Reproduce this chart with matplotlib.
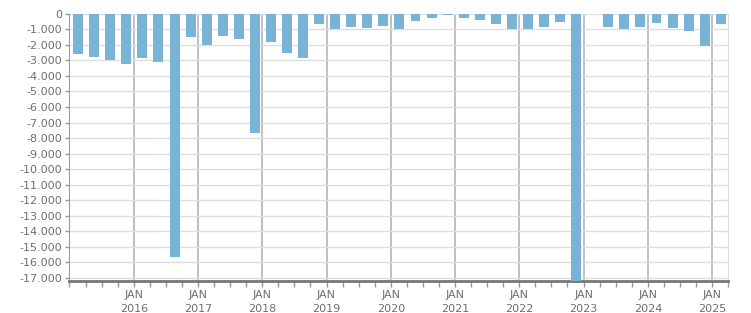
import numpy as np
import matplotlib.pyplot as plt
from matplotlib.ticker import FuncFormatter, MultipleLocator

# quarterly values, 2015 Q1 .. 2025 Q1 (nan = no data)
years = [2015] * 4 + [2016] * 4 + [2017] * 4 + [2018] * 4 + [2019] * 4 + \
        [2020] * 4 + [2021] * 4 + [2022] * 4 + [2023] * 4 + [2024] * 4 + [2025]
quarters = [1, 2, 3, 4] * 10 + [1]
values = [
    -2580, -2770, -2970, -3230,
    -2840, -3120, -15650, -1480,
    -2000, -1420, -1610, -7680,
    -1830, -2520, -2840, -650,
    -970, -840, -900, -770,
    -970, -450, -260, -90,
    -260, -390, -650, -970,
    -970, -840, -520, -19000,
    np.nan, -840, -970, -840,
    -580, -900, -1100, -2060,
    -650,
]
label_years = list(range(2016, 2026))

BAR_COLOR = '#79b3d5'
TEXT_COLOR = '#6e6e6e'


def thousands(v, pos):
    return f"{int(round(v)):,}".replace(",", ".")


def run():
    x = np.array(years) + (np.array(quarters) - 1) * 0.25 + 0.135
    vals = np.array(values, dtype=float)

    fig = plt.figure(figsize=(7.51, 3.13), dpi=100)
    ax = fig.add_axes([0.0925, 0.103, 0.8775, 0.853])

    ax.bar(x, np.nan_to_num(vals), width=0.155, color=BAR_COLOR, zorder=3)

    ax.set_xlim(2015.0, 2025.255)
    ax.set_ylim(-17180, 0)

    ax.yaxis.set_major_locator(MultipleLocator(1000))
    ax.yaxis.set_major_formatter(FuncFormatter(thousands))
    ax.set_xticks(label_years)
    ax.set_xticklabels([f"JAN\n{y}" for y in label_years])
    ax.xaxis.set_minor_locator(MultipleLocator(0.25))

    ax.grid(axis='y', color='#dedede', lw=1, zorder=1)
    ax.grid(axis='x', which='major', color='#b5b5b5', lw=1.2, zorder=2)

    ax.tick_params(axis='y', length=3, width=1, color='#999999', pad=2,
                   labelsize=8, labelcolor=TEXT_COLOR)
    ax.tick_params(axis='x', which='both', length=4, width=1, color='#999999',
                   pad=3, labelsize=8, labelcolor=TEXT_COLOR)
    for lbl in ax.get_xticklabels():
        lbl.set_linespacing(1.4)

    ax.spines['top'].set_visible(False)
    ax.spines['right'].set_color('#dddddd')
    ax.spines['left'].set_color('#999999')
    ax.spines['bottom'].set_color('#777777')
    ax.spines['bottom'].set_linewidth(2)

    fig.savefig('out.png', dpi=100)


if __name__ == '__main__':
    run()
